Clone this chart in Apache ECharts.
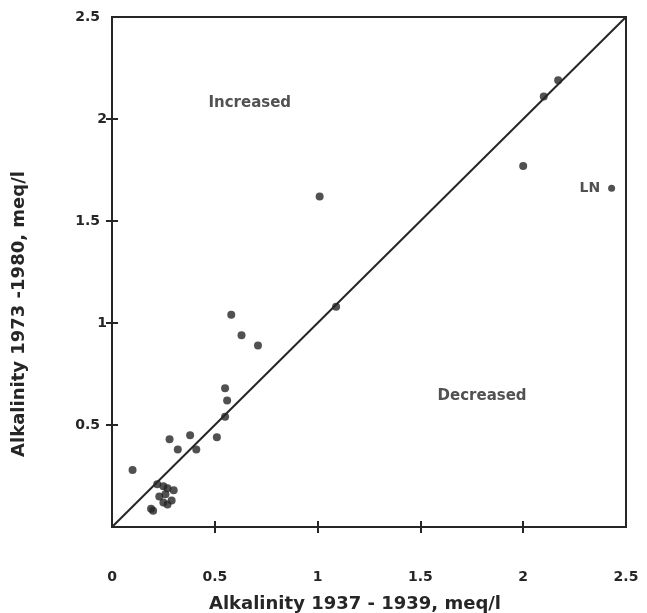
<!DOCTYPE html>
<html>
<head>
<meta charset="utf-8">
<script src="https://cdn.jsdelivr.net/npm/echarts@6/dist/echarts.min.js"></script>
<style>
html,body{margin:0;padding:0;background:#fff;}
#chart{width:647px;height:613px;}
</style>
</head>
<body>
<div id="chart"></div>
<script>
// ---- data ----
const xTickValues = [0.5, 1, 1.5, 2];
const xLabelValues = [0, 0.5, 1, 1.5, 2, 2.5];
const yTickValues = [0.5, 1, 1.5, 2];
const yLabelValues = [0.5, 1, 1.5, 2, 2.5];

// Alkalinity 1937-1939 (x) vs 1973-1980 (y), meq/l
const lakesX = [0.10, 0.28, 0.32, 0.38, 0.41, 0.51, 0.55, 0.56, 0.55, 0.58, 0.63, 0.71, 1.01, 1.09, 2.00, 2.10, 2.17,
                0.22, 0.25, 0.27, 0.30, 0.23, 0.26, 0.29, 0.25, 0.27, 0.19, 0.20];
const lakesY = [0.28, 0.43, 0.38, 0.45, 0.38, 0.44, 0.54, 0.62, 0.68, 1.04, 0.94, 0.89, 1.62, 1.08, 1.77, 2.11, 2.19,
                0.21, 0.20, 0.19, 0.18, 0.15, 0.16, 0.13, 0.12, 0.11, 0.09, 0.08];
const lnName = 'LN';
const lnX = 2.43;
const lnY = 1.66;

const equalityLine = [[0, 0], [2.5, 2.5]];

const regionNames = ['Increased', 'Decreased'];
const regionX = [0.67, 1.80];
const regionY = [2.08, 0.64];

const xTitle = 'Alkalinity 1937 - 1939, meq/l';
const yTitle = 'Alkalinity 1973 -1980, meq/l';

// ---- chart ----
const ink = '#262626';
const font = '"DejaVu Sans", "Liberation Sans", Arial, sans-serif';
const chart = echarts.init(document.getElementById('chart'), null, {renderer: 'canvas'});

const lakePoints = lakesX.map((x, i) => [x, lakesY[i]]);
const regionPoints = regionNames.map((n, i) => ({name: n, value: [regionX[i], regionY[i]]}));

const tickLabelStyle = {color: ink, fontFamily: font, fontWeight: 'bold', fontSize: 14};

const option = {
  backgroundColor: '#fff',
  animation: false,
  grid: {left: 112, right: 21, top: 17, bottom: 86, outerBoundsMode: 'none', containLabel: false,
    show: true, borderColor: ink, borderWidth: 2, backgroundColor: 'transparent'},
  xAxis: [{
    type: 'value', min: 0, max: 2.5, interval: 0.5, position: 'bottom',
    splitLine: {show: false},
    axisLine: {show: true, lineStyle: {color: ink, width: 2}},
    axisTick: {show: true, length: 6, customValues: xTickValues, lineStyle: {color: ink, width: 2}},
    axisLabel: Object.assign({show: true, margin: 43, customValues: xLabelValues, formatter: v => String(v)}, tickLabelStyle),
    name: xTitle, nameLocation: 'middle', nameGap: 68,
    nameTextStyle: {color: ink, fontFamily: font, fontWeight: 'bold', fontSize: 18, padding: [0, 28, 0, 0]}
  }, {
    type: 'value', min: 0, max: 2.5, interval: 0.5, position: 'bottom', gridIndex: 0,
    splitLine: {show: false}, axisLine: {show: false},
    axisTick: {show: true, inside: true, length: 6, customValues: xTickValues, lineStyle: {color: ink, width: 2}},
    axisLabel: {show: false}
  }],
  yAxis: [{
    type: 'value', min: 0, max: 2.5, interval: 0.5, position: 'left',
    splitLine: {show: false},
    axisLine: {show: true, lineStyle: {color: ink, width: 2}},
    axisTick: {show: true, length: 6, customValues: yTickValues, lineStyle: {color: ink, width: 2}},
    axisLabel: Object.assign({show: true, margin: 5, customValues: yLabelValues,
      formatter: v => Number.isInteger(v) ? '{i|' + v + '}' : '{d|' + v + '}',
      rich: {
        i: Object.assign({}, tickLabelStyle),
        d: Object.assign({padding: [0, 7, 0, 0]}, tickLabelStyle)
      }}, tickLabelStyle),
    name: yTitle, nameLocation: 'middle', nameGap: 84, nameRotate: 90,
    nameTextStyle: {color: ink, fontFamily: font, fontWeight: 'bold', fontSize: 18, padding: [0, 84, 0, 0]}
  }, {
    type: 'value', min: 0, max: 2.5, interval: 0.5, position: 'left', gridIndex: 0,
    splitLine: {show: false}, axisLine: {show: false},
    axisTick: {show: true, inside: true, length: 6, customValues: yTickValues, lineStyle: {color: ink, width: 2}},
    axisLabel: {show: false}
  }],
  series: [{
    type: 'line', data: equalityLine, symbol: 'none', silent: true,
    lineStyle: {color: ink, width: 2}, z: 2
  }, {
    type: 'scatter', data: lakePoints, symbol: 'circle', symbolSize: 8,
    itemStyle: {color: ink}, z: 3
  }, {
    type: 'scatter', data: [{name: lnName, value: [lnX, lnY]}], symbol: 'circle', symbolSize: 7,
    itemStyle: {color: ink}, z: 3,
    label: {show: true, position: 'left', distance: 8, formatter: '{b}',
      color: ink, fontFamily: font, fontWeight: 'bold', fontSize: 14}
  }, {
    type: 'scatter', data: regionPoints, symbolSize: 0, z: 4,
    label: {show: true, position: 'inside', formatter: '{b}',
      color: ink, fontFamily: font, fontWeight: 'bold', fontSize: 15}
  }]
};
chart.setOption(option);
</script>
</body>
</html>
